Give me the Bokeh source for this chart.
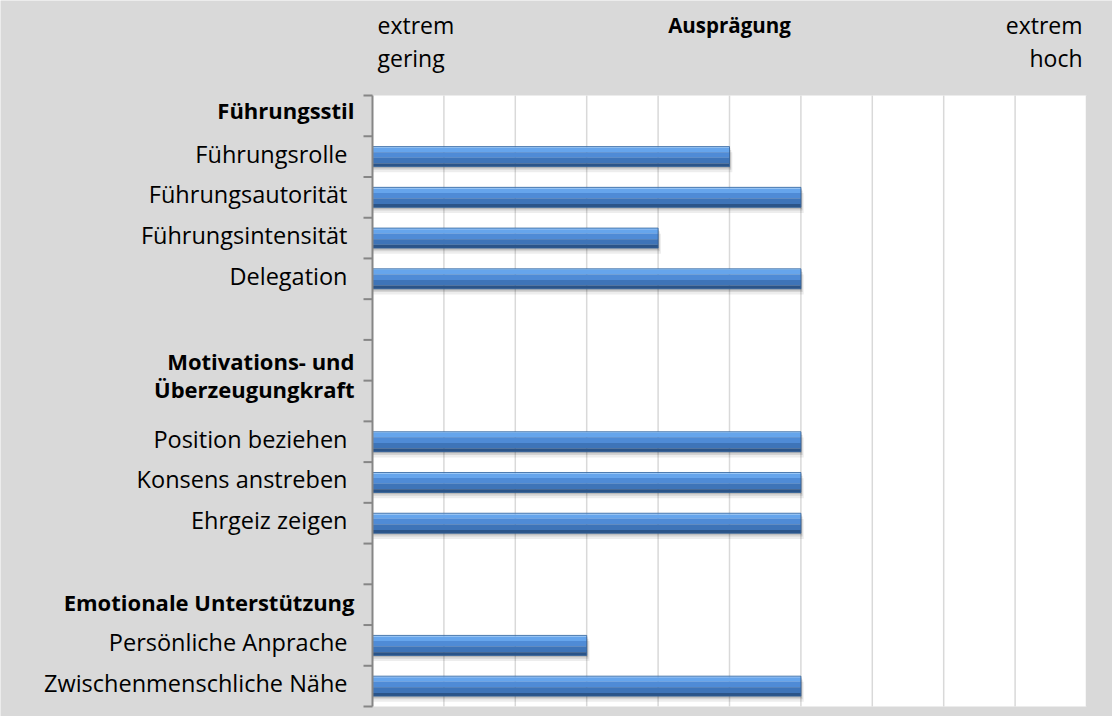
from bokeh.plotting import figure
from bokeh.models import Range1d, ColumnDataSource
from bokeh.core.properties import value
from bokeh.embed import file_html
from bokeh.resources import INLINE

# ---- data ----
categories = ["Führungsstil", "Führungsrolle", "Führungsautorität", "Führungsintensität",
              "Delegation", "", "Motivations- und\nÜberzeugungkraft", "",
              "Position beziehen", "Konsens anstreben", "Ehrgeiz zeigen", "",
              "Emotionale Unterstützung", "Persönliche Anprache", "Zwischenmenschliche Nähe"]
is_heading = [True, False, False, False, False, False, True, False,
              False, False, False, False, True, False, False]
label_span = [1, 1, 1, 1, 1, 0, 2, 0, 1, 1, 1, 0, 1, 1, 1]
values = [0, 5, 6, 4, 6, 0, 0, 0, 6, 6, 6, 0, 0, 3, 6]
scale_ticks = list(range(0, 11))
axis_title = "Ausprägung"
scale_low = ["extrem", "gering"]
scale_high = ["extrem", "hoch"]

FONT = "Open Sans"
FS_NORM = "23.5px"
FS_BOLD = "22px"
FS_HEAD = "23px"
FS_TITLE = "20.5px"
n_rows = len(categories)
smin, smax = scale_ticks[0], scale_ticks[-1]

# pixel geometry of the canvas (1112 x 716), frame fills the canvas
W, H = 1112, 716
px_x = 714 / (smax - smin)
px_y = 611 / n_rows
x_lo = smin - 372 / px_x
x_hi = smax + 26 / px_x
y_top = 0 - 95 / px_y
y_bot = n_rows + 10 / px_y

p = figure(width=W, height=H, output_backend="svg", toolbar_location=None,
           x_range=Range1d(x_lo, x_hi), y_range=Range1d(y_bot, y_top),
           x_axis_location=None, y_axis_location=None, min_border=0)
p.background_fill_color = "#d9d9d9"
p.border_fill_color = "#d9d9d9"
p.outline_line_color = None
p.grid.visible = False

# white plot area
p.quad(left=[smin], right=[smax], top=[0], bottom=[n_rows], fill_color="white", line_color=None)
# vertical grid lines
gx = scale_ticks[1:]
p.segment(x0=gx, y0=[0] * len(gx), x1=gx, y1=[n_rows] * len(gx),
          line_color="#d9d9d9", line_width=1.5)

# bars
rows = [i for i, v in enumerate(values) if v > 0]
ys = [i + 0.5 for i in rows]
vals = [values[i] for i in rows]
bar_h = 0.49
p.hbar(y=[y + 0.14 for y in ys], left=smin, right=[v + 0.04 for v in vals],
       height=bar_h, fill_color="black", fill_alpha=0.07, line_color=None)
p.hbar(y=[y + 0.08 for y in ys], left=smin, right=[v + 0.025 for v in vals],
       height=bar_h, fill_color="black", fill_alpha=0.10, line_color=None)
p.hbar(y=[y + 0.04 for y in ys], left=smin, right=[v + 0.012 for v in vals],
       height=bar_h, fill_color="black", fill_alpha=0.12, line_color=None)
strips = [(0.00, 0.06, "#8fc4fa"), (0.06, 0.22, "#66a5ec"), (0.28, 0.28, "#4f8bd6"),
          (0.56, 0.28, "#3e74b8"), (0.84, 0.16, "#2b5488")]
for off, h, col in strips:
    p.hbar(y=[y - bar_h / 2 + bar_h * (off + h / 2) for y in ys], left=smin, right=vals,
           height=bar_h * h, fill_color=col, line_color=None)
p.hbar(y=ys, left=smin, right=vals, height=bar_h, fill_color=None,
       line_color="#2f5f99", line_width=0.8)

# category axis: line + ticks at row boundaries
tick_len = 9 / px_x
bounds = list(range(n_rows + 1))
p.segment(x0=[smin], y0=[0], x1=[smin], y1=[n_rows], line_color="#868686", line_width=2)
p.segment(x0=[smin - tick_len] * len(bounds), y0=bounds, x1=[smin] * len(bounds), y1=bounds,
          line_color="#868686", line_width=2)

# category labels
line_step = 28 / px_y
lift = 3 / px_y
norm = dict(x=[], y=[], text=[])
bold = dict(x=[], y=[], text=[])
for i, (txt, head, span) in enumerate(zip(categories, is_heading, label_span)):
    if not txt:
        continue
    lines = txt.split("\n")
    center = i + span / 2 - lift * (2 if len(lines) > 1 or i == 0 else 1)
    for k, ln in enumerate(lines):
        d = bold if head else norm
        d["x"].append(smin)
        d["y"].append(center + (k - (len(lines) - 1) / 2) * line_step)
        d["text"].append(ln)
p.text(x="x", y="y", text="text", source=ColumnDataSource(norm), x_offset=-25,
       text_align="right", text_baseline="middle", text_font=value(FONT),
       text_font_size=value(FS_NORM), text_color="black")
p.text(x="x", y="y", text="text", source=ColumnDataSource(bold), x_offset=-18,
       text_align="right", text_baseline="middle", text_font=value(FONT),
       text_font_size=value(FS_BOLD), text_font_style="bold", text_color="black")

# header labels
top_y = [-1.72, -0.93]
p.text(x=[smin] * 2, y=top_y, text=scale_low, x_offset=5, text_align="left",
       text_baseline="middle", text_font=value(FONT), text_font_size=value(FS_HEAD),
       text_color="black")
p.text(x=[smax] * 2, y=top_y, text=scale_high, x_offset=-4, text_align="right",
       text_baseline="middle", text_font=value(FONT), text_font_size=value(FS_HEAD),
       text_color="black")
p.text(x=[(smin + smax) / 2], y=[top_y[0]], text=[axis_title], text_align="center",
       text_baseline="middle", text_font=value(FONT), text_font_size=value(FS_TITLE),
       text_font_style="bold", text_color="black")

open("out.html", "w").write(file_html(p, INLINE))
